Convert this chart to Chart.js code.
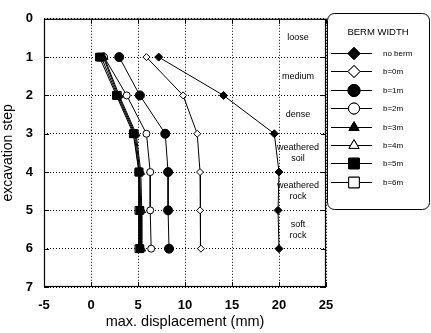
<!DOCTYPE html>
<html>
<head>
<meta charset="utf-8">
<script src="https://cdn.jsdelivr.net/npm/chart.js@4/dist/chart.umd.min.js"></script>
<style>
html,body{margin:0;padding:0;background:#fff;}
#wrap{width:431px;height:333px;position:relative;}
</style>
</head>
<body>
<div id="wrap"><canvas id="c" width="431" height="333"></canvas></div>
<script>
const steps = [1, 2, 3, 4, 5, 6];
const seriesNames = ["no berm", "b=0m", "b=1m", "b=2m", "b=3m", "b=4m", "b=5m", "b=6m"];
const noBerm = [7.2, 14.1, 19.5, 20.0, 19.9, 20.0];
const b0m = [5.9, 9.8, 11.3, 11.6, 11.6, 11.7];
const b1m = [3.0, 5.2, 7.9, 8.2, 8.2, 8.3];
const b2m = [1.4, 3.8, 5.9, 6.3, 6.3, 6.4];
const b3m = [1.3, 2.9, 4.7, 5.2, 5.3, 5.3];
const b4m = [1.4, 3.0, 4.8, 5.3, 5.4, 5.4];
const b5m = [0.9, 2.7, 4.5, 5.1, 5.2, 5.2];
const b6m = [1.1, 2.8, 4.6, 5.1, 5.1, 5.1];
const soilLayers = [["loose"], ["medium"], ["dense"], ["weathered", "soil"], ["weathered", "rock"], ["soft", "rock"]];
const xTicks = [-5, 0, 5, 10, 15, 20, 25];
const yTicks = [0, 1, 2, 3, 4, 5, 6, 7];

const allValues = [noBerm, b0m, b1m, b2m, b3m, b4m, b5m, b6m];
const styles = [
  {ps: 'rectRot', fill: true, r: 4, lr: 6},
  {ps: 'rectRot', fill: false, r: 3.5, lr: 6},
  {ps: 'circle', fill: true, r: 4.5, lr: 6},
  {ps: 'circle', fill: false, r: 3.5, lr: 5.5},
  {ps: 'triangle', fill: true, r: 4.5, lr: 5.8},
  {ps: 'triangle', fill: false, r: 4.5, lr: 5.8},
  {ps: 'rect', fill: true, r: 5.5, lr: 7.5},
  {ps: 'rect', fill: false, r: 5.5, lr: 7.5}
];
const datasets = seriesNames.map((n, i) => ({
  label: n,
  data: steps.map((s, k) => ({x: allValues[i][k], y: s})),
  borderColor: '#000',
  borderWidth: 1,
  backgroundColor: styles[i].fill ? '#000' : '#fff',
  pointStyle: styles[i].ps,
  pointRadius: styles[i].r,
  pointBorderColor: '#000',
  pointBackgroundColor: styles[i].fill ? '#000' : '#fff',
  pointBorderWidth: 1,
  tension: 0,
  fill: false,
  order: styles[i].fill ? 0 : 1
}));

const FONT = 'Liberation Sans, Arial, sans-serif';

const extras = {
  id: 'extras',
  afterDraw(chart) {
    const ctx = chart.ctx;
    const xs = chart.scales.x, ys = chart.scales.y;
    const a = chart.chartArea;
    ctx.save();
    ctx.strokeStyle = '#000';
    ctx.lineWidth = 1.2;
    ctx.strokeRect(a.left + 0.5, a.top + 0.5, a.right - a.left - 1, a.bottom - a.top - 1);
    ctx.lineWidth = 1;
    xTicks.forEach(v => {
      const px = Math.round(xs.getPixelForValue(v)) + 0.5;
      ctx.beginPath(); ctx.moveTo(px, a.bottom); ctx.lineTo(px, a.bottom - 5); ctx.stroke();
      ctx.beginPath(); ctx.moveTo(px, a.top); ctx.lineTo(px, a.top + 5); ctx.stroke();
    });
    yTicks.forEach(v => {
      const py = Math.round(ys.getPixelForValue(v)) + 0.5;
      ctx.beginPath(); ctx.moveTo(a.left, py); ctx.lineTo(a.left + 5, py); ctx.stroke();
      ctx.beginPath(); ctx.moveTo(a.right, py); ctx.lineTo(a.right - 5, py); ctx.stroke();
    });
    // soil labels (clipped to plot frame)
    ctx.save();
    ctx.beginPath();
    ctx.rect(a.left, a.top, a.right - a.left - 1, a.bottom - a.top);
    ctx.clip();
    ctx.fillStyle = '#000';
    ctx.font = '9px ' + FONT;
    ctx.textAlign = 'center';
    ctx.textBaseline = 'middle';
    const cx = 298;
    soilLayers.forEach((lines, i) => {
      const cy = ys.getPixelForValue(i + 0.5);
      const lh = 11;
      lines.forEach((t, j) => {
        ctx.fillText(t, cx, cy + (j - (lines.length - 1) / 2) * lh);
      });
    });
    ctx.restore();
    // legend box
    const L = 327.5, T = 13.5, R = 429.5, B = 209.5, rad = 7;
    ctx.beginPath();
    ctx.moveTo(L + rad, T);
    ctx.lineTo(R - rad, T); ctx.arcTo(R, T, R, T + rad, rad);
    ctx.lineTo(R, B - rad); ctx.arcTo(R, B, R - rad, B, rad);
    ctx.lineTo(L + rad, B); ctx.arcTo(L, B, L, B - rad, rad);
    ctx.lineTo(L, T + rad); ctx.arcTo(L, T, L + rad, T, rad);
    ctx.closePath();
    ctx.fillStyle = '#fff'; ctx.fill();
    ctx.strokeStyle = '#000'; ctx.lineWidth = 1; ctx.stroke();
    ctx.fillStyle = '#000';
    ctx.font = '9.5px ' + FONT;
    ctx.textAlign = 'center';
    ctx.textBaseline = 'middle';
    ctx.fillText('BERM WIDTH', 378, 32);
    ctx.textAlign = 'left';
    seriesNames.forEach((n, i) => {
      const y = 53 + i * 18.4;
      const yy = Math.round(y) + 0.5;
      ctx.beginPath(); ctx.moveTo(331, yy); ctx.lineTo(372, yy);
      ctx.strokeStyle = '#000'; ctx.lineWidth = 1; ctx.stroke();
      Chart.helpers.drawPoint(ctx, {
        pointStyle: styles[i].ps, radius: styles[i].lr, rotation: 0, borderWidth: 1
      }, 354, yy);
      ctx.fillStyle = styles[i].fill ? '#000' : '#fff';
      ctx.strokeStyle = '#000';
      ctx.fill(); ctx.stroke();
      ctx.fillStyle = '#000';
      ctx.font = '8px ' + FONT;
      ctx.fillText(n, 383, yy);
    });
    ctx.restore();
  }
};

new Chart(document.getElementById('c'), {
  type: 'line',
  data: {datasets: datasets},
  options: {
    responsive: false,
    animation: false,
    events: [],
    layout: {padding: {top: 15, right: 105, left: 0, bottom: 0}},
    plugins: {legend: {display: false}, tooltip: {enabled: false}},
    scales: {
      x: {
        type: 'linear', min: -5, max: 25,
        afterBuildTicks: s => { s.ticks = xTicks.map(v => ({value: v})); },
        afterFit: s => { s.height = 46; },
        grid: {color: '#000', lineWidth: 1, drawTicks: false},
        border: {display: false, dash: [1, 2]},
        ticks: {color: '#000', font: {family: FONT, size: 13, weight: 'bold'}, padding: 11, maxRotation: 0},
        title: {display: true, text: 'max. displacement (mm)', color: '#000', font: {family: FONT, size: 14.5}, padding: {top: 0, bottom: 2}}
      },
      y: {
        type: 'linear', min: 0, max: 7, reverse: true,
        afterBuildTicks: s => { s.ticks = yTicks.map(v => ({value: v})); },
        afterFit: s => { s.width = 44; },
        grid: {color: '#000', lineWidth: 1, drawTicks: false},
        border: {display: false, dash: [1, 2]},
        ticks: {color: '#000', font: {family: FONT, size: 13, weight: 'bold'}, padding: 11},
        title: {display: true, text: 'excavation step', color: '#000', font: {family: FONT, size: 14}, padding: {top: 0, bottom: 0}}
      }
    }
  },
  plugins: [extras]
});
</script>
</body>
</html>
